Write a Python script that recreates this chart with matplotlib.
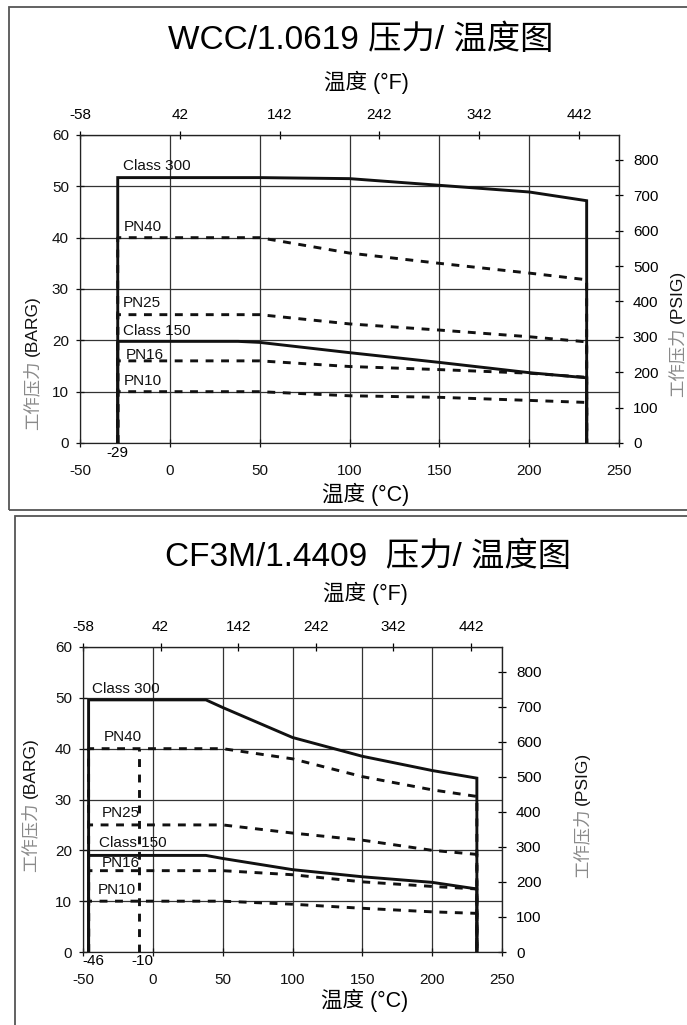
import matplotlib
matplotlib.use("Agg")
import matplotlib.pyplot as plt
from matplotlib.patches import Rectangle

plt.rcParams['font.family'] = ['Liberation Sans', 'Noto Sans CJK SC']
plt.rcParams['axes.unicode_minus'] = False

W, H = 687, 1025  # output size in px (dpi 100)

# --- WCC / 1.0619 ---
wcc_class_t = [-29, 38, 50, 100, 150, 200, 232]
wcc_class300 = [51.7, 51.7, 51.7, 51.5, 50.2, 48.9, 47.2]
wcc_class150 = [19.8, 19.8, 19.6, 17.6, 15.7, 13.7, 12.7]
wcc_pn_t = [-29, 50, 100, 150, 200, 232]
wcc_pn40 = [40, 40, 37.0, 35.0, 33.1, 31.8]
wcc_pn25 = [25, 25, 23.2, 22.0, 20.7, 19.7]
wcc_pn16 = [16, 16, 14.9, 14.3, 13.6, 12.8]
wcc_pn10 = [10, 10, 9.2, 8.9, 8.3, 7.9]

# --- CF3M / 1.4409 ---
cf3m_class_t = [-46, 38, 50, 100, 150, 200, 232]
cf3m_class300 = [49.6, 49.6, 48.1, 42.2, 38.5, 35.7, 34.2]
cf3m_class150 = [19.0, 19.0, 18.4, 16.2, 14.8, 13.7, 12.4]
cf3m_pn_t = [-46, 50, 100, 150, 200, 232]
cf3m_pn40 = [40, 40, 38.0, 34.5, 31.9, 30.6]
cf3m_pn25 = [25, 25, 23.4, 22.0, 20.0, 19.2]
cf3m_pn16 = [16, 16, 15.2, 13.8, 12.9, 12.4]
cf3m_pn10 = [10, 10, 9.4, 8.6, 7.9, 7.6]
cf3m_pn_min_t = -10
cf3m_pn_min_top = 40

c_ticks = [-50, 0, 50, 100, 150, 200, 250]
f_ticks = [-58, 42, 142, 242, 342, 442]
bar_ticks = [0, 10, 20, 30, 40, 50, 60]
psi_ticks = [0, 100, 200, 300, 400, 500, 600, 700, 800]

wcc_labels = [("Class 300", -26.3, 54.0), ("PN40", -25.6, 42.0), ("PN25", -26.0, 27.3),
              ("Class 150", -26.0, 21.9), ("PN16", -24.4, 17.2), ("PN10", -25.5, 12.1)]
cf3m_labels = [("Class 300", -43.7, 51.8), ("PN40", -35.4, 42.3), ("PN25", -36.6, 27.4),
               ("Class 150", -38.2, 21.5), ("PN16", -36.6, 17.5), ("PN10", -39.4, 12.2)]


def c2f(c):
    return c * 9 / 5 + 32


def f2c(f):
    return (f - 32) * 5 / 9


def bar2psi(b):
    return b * 14.5038


def psi2bar(p):
    return p / 14.5038


def closed(t, v):
    # curve drawn down to zero at both ends
    return [t[0]] + list(t) + [t[-1]], [0] + list(v) + [0]


def draw_panel(ax, class_t, classes, pn_t, pns, labels):
    for v in classes:
        x, y = closed(class_t, v)
        ax.plot(x, y, color='#111', lw=2.1, solid_joinstyle='miter', zorder=3)
    for v in pns:
        x, y = closed(pn_t, v)
        ax.plot(x, y, color='#111', lw=2.1, dashes=(2.7, 2.6), zorder=3)
    for txt, x, y in labels:
        ax.text(x, y, txt, fontsize=11, ha='left', va='center', color='#111')

    ax.set_xlim(-50, 250)
    ax.set_ylim(0, 60)
    ax.set_xticks(c_ticks)
    ax.set_yticks(bar_ticks)
    ax.grid(True, color='#333', lw=0.9)
    for s in ax.spines.values():
        s.set_color('#222')
        s.set_linewidth(0.9)
    ax.tick_params(direction='inout', length=6, width=0.9, labelsize=11, colors='#111')
    ax.tick_params(axis='x', pad=12)
    ax.tick_params(axis='y', pad=5)

    secx = ax.secondary_xaxis('top', functions=(c2f, f2c))
    secx.set_xticks(f_ticks)
    secx.tick_params(direction='inout', length=6, width=0.9, labelsize=11, pad=6)
    secx.spines['top'].set_color('#222')
    secy = ax.secondary_yaxis('right', functions=(bar2psi, psi2bar))
    secy.set_yticks(psi_ticks)
    secy.tick_params(direction='inout', length=6, width=0.9, labelsize=11, pad=7)
    secy.spines['right'].set_color('#222')


def ylabel(fig, xpx, ypx, unit):
    # grey CJK part below, black unit part above (rotated)
    fig.text(xpx / W, 1 - (ypx + 2) / H, "工作压力", rotation=90, ha='center', va='top',
             fontsize=12.5, color='#8a8a8a', family=['Noto Sans CJK SC'])
    fig.text(xpx / W, 1 - (ypx - 2) / H, unit, rotation=90, ha='center', va='bottom',
             fontsize=12.5, color='#111')


fig = plt.figure(figsize=(W / 100, H / 100), dpi=100)

# frames around the two charts
fig.add_artist(Rectangle((9 / W, 1 - 510 / H), 1.0, (510 - 7) / H, transform=fig.transFigure,
                         fill=False, ec='#555', lw=1.3))
fig.add_artist(Rectangle((15 / W, -0.1), 1.0, 0.1 + 1 - 516 / H, transform=fig.transFigure,
                         fill=False, ec='#555', lw=1.3))

# top chart
ax1 = fig.add_axes([80 / W, 1 - 443 / H, (619 - 80) / W, (443 - 135) / H])
draw_panel(ax1, wcc_class_t, [wcc_class300, wcc_class150], wcc_pn_t,
           [wcc_pn40, wcc_pn25, wcc_pn16, wcc_pn10], wcc_labels)
ax1.text(wcc_class_t[0], -1.9, "-29", ha='center', va='center', fontsize=11, clip_on=False)
fig.text(361 / W, 1 - 40 / H, "WCC/1.0619 压力/ 温度图", ha='center', va='center', fontsize=24)
fig.text(366 / W, 1 - 82 / H, "温度 (°F)", ha='center', va='center', fontsize=15.5)
fig.text(366 / W, 1 - 494 / H, "温度 (°C)", ha='center', va='center', fontsize=15.5)
ylabel(fig, 32, 358, "(BARG)")
ylabel(fig, 677, 325, "(PSIG)")

# bottom chart
ax2 = fig.add_axes([83 / W, 1 - 952 / H, (502 - 83) / W, (952 - 647) / H])
draw_panel(ax2, cf3m_class_t, [cf3m_class300, cf3m_class150], cf3m_pn_t,
           [cf3m_pn40, cf3m_pn25, cf3m_pn16, cf3m_pn10], cf3m_labels)
ax2.plot([cf3m_pn_min_t, cf3m_pn_min_t], [0, cf3m_pn_min_top], color='#111', lw=2.1,
         dashes=(2.7, 2.6), zorder=3)
ax2.text(-42.6, -1.8, "-46", ha='center', va='center', fontsize=11, clip_on=False)
ax2.text(-7.8, -1.8, "-10", ha='center', va='center', fontsize=11, clip_on=False)
fig.text(368 / W, 1 - 557 / H, "CF3M/1.4409  压力/ 温度图", ha='center', va='center', fontsize=24)
fig.text(365 / W, 1 - 593 / H, "温度 (°F)", ha='center', va='center', fontsize=15.5)
fig.text(365 / W, 1 - 1000 / H, "温度 (°C)", ha='center', va='center', fontsize=15.5)
ylabel(fig, 30, 800, "(BARG)")
ylabel(fig, 582, 807, "(PSIG)")

fig.savefig("out.png", dpi=100)
